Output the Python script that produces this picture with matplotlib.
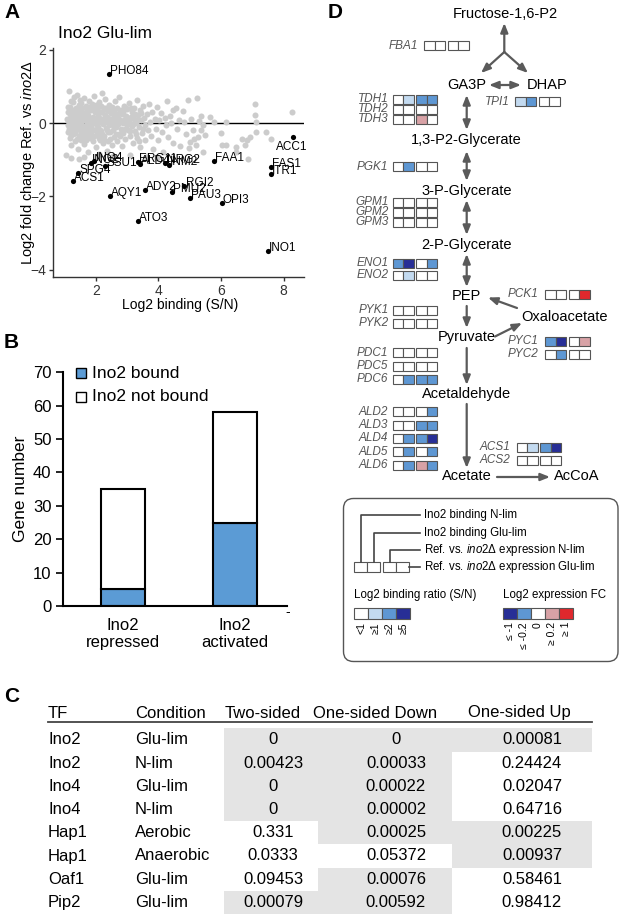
import matplotlib
matplotlib.use("Agg")
import matplotlib.pyplot as plt
from matplotlib.patches import Rectangle, FancyBboxPatch

plt.rcParams['font.family'] = ['Liberation Sans', 'DejaVu Sans']
plt.rcParams['mathtext.fontset'] = 'custom'
plt.rcParams['mathtext.rm'] = 'Liberation Sans'
plt.rcParams['mathtext.it'] = 'Liberation Sans:italic'

# ---------------- Panel A data ----------------
lab_genes = ["PHO84", "ACC1", "FAA1", "FAS1", "ITR1", "INO1", "OPI3", "PAU3", "RGI2", "PMU2",
             "ADY2", "AQY1", "ATO3", "ACS1", "SPG4", "SSU1", "INO2", "INO4", "ERG11", "ALD4",
             "NRG2", "INM2"]
lab_x = [2.42, 8.29, 5.78, 7.58, 7.58, 7.50, 6.02, 5.01, 4.83, 4.43,
         3.56, 2.44, 3.35, 1.26, 1.44, 2.30, 1.83, 1.95, 3.34, 3.40,
         4.22, 4.33]
lab_y = [1.34, -0.37, -1.03, -1.20, -1.40, -3.48, -2.17, -2.05, -1.71, -1.87,
         -1.82, -2.00, -2.66, -1.59, -1.36, -1.16, -1.08, -1.03, -1.05, -1.12,
         -1.08, -1.15]

gray_pts = [
    (1.08, 0.12), (1.10, -0.05), (1.12, 0.30), (1.12, -0.25), (1.15, 0.88), (1.15, 0.05), (1.18, -0.40),
    (1.18, 0.45), (1.20, 0.20), (1.22, -0.12), (1.22, -0.60), (1.25, 0.35), (1.25, 0.00), (1.28, -0.30),
    (1.28, 0.58), (1.30, 0.15), (1.32, -0.05), (1.33, -0.48), (1.35, 0.40), (1.36, 0.08), (1.38, -0.20),
    (1.40, 0.78), (1.40, 0.25), (1.42, -0.70), (1.44, -0.02), (1.45, 0.50), (1.47, -0.35), (1.48, 0.18),
    (1.50, -0.10), (1.50, 0.62), (1.20, -0.95), (1.45, -0.98), (1.62, -0.92), (1.06, -0.86),
    (1.52, 0.30), (1.53, -0.45), (1.55, 0.05), (1.57, 0.42), (1.58, -0.22), (1.60, 0.15), (1.62, -0.58),
    (1.63, 0.68), (1.65, -0.08), (1.66, 0.28), (1.68, -0.32), (1.70, 0.48), (1.71, 0.02), (1.73, -0.15),
    (1.75, 0.22), (1.76, -0.80), (1.78, 0.60), (1.80, -0.40), (1.81, 0.10), (1.83, 0.35), (1.85, -0.05),
    (1.86, -0.25), (1.88, 0.52), (1.90, 0.18), (1.92, -0.50), (1.93, 0.00), (1.95, 0.75), (1.96, -0.18),
    (1.98, 0.30), (2.00, -0.65),
    (2.02, 0.08), (2.03, 0.42), (2.05, -0.30), (2.07, 0.20), (2.08, -0.10), (2.10, 0.58), (2.12, -0.45),
    (2.13, 0.05), (2.15, 0.30), (2.17, -0.22), (2.18, 0.82), (2.20, 0.12), (2.22, -0.55), (2.23, -0.02),
    (2.25, 0.40), (2.27, -0.35), (2.28, 0.22), (2.30, 0.65), (2.32, -0.12), (2.33, 0.05), (2.35, -0.75),
    (2.37, 0.35), (2.38, -0.25), (2.40, 0.15), (2.42, 0.50), (2.43, -0.05), (2.45, -0.42), (2.47, 0.28),
    (2.48, 0.00), (2.50, -0.60), (2.10, -0.85),
    (2.52, 0.45), (2.53, 0.10), (2.55, -0.20), (2.57, 0.32), (2.58, -0.38), (2.60, 0.60), (2.62, 0.02),
    (2.64, -0.10), (2.65, 0.22), (2.67, -0.50), (2.69, 0.40), (2.70, -0.02), (2.72, 0.15), (2.74, -0.30),
    (2.75, 0.70), (2.77, 0.08), (2.79, -0.15), (2.80, 0.35), (2.82, -0.62), (2.84, 0.25), (2.86, 0.00),
    (2.88, -0.28), (2.90, 0.48), (2.92, 0.12), (2.94, -0.42), (2.96, 0.20), (2.98, -0.05), (2.55, -0.90),
    (3.00, 0.38), (3.02, -0.18), (3.05, 0.05), (3.07, 0.55), (3.09, -0.35), (3.12, 0.18), (3.14, -0.08),
    (3.16, 0.30), (3.18, -0.55), (3.21, 0.10), (3.23, 0.42), (3.25, -0.22), (3.28, 0.00), (3.30, 0.62),
    (3.32, -0.40), (3.35, 0.22), (3.37, -0.10), (3.40, 0.35), (3.42, -0.65), (3.45, 0.08), (3.48, -0.28),
    (3.50, 0.48), (3.53, 0.15), (3.56, -0.05), (3.58, -0.45), (3.10, -0.88),
    (3.62, 0.25), (3.65, -0.18), (3.70, 0.52), (3.72, 0.02), (3.76, -0.35), (3.80, 0.30), (3.84, -0.70),
    (3.88, 0.10), (3.92, -0.15), (3.95, 0.45), (4.00, -0.45), (4.03, 0.08), (4.08, 0.28), (4.12, -0.25),
    (4.15, -0.80), (4.20, 0.15), (4.24, -0.05), (4.28, 0.60), (4.32, -0.38), (4.36, 0.20), (4.40, 0.00),
    (4.45, -0.55), (4.48, 0.35), (3.60, -0.92), (3.95, -0.95),
    (4.55, 0.40), (4.60, -0.15), (4.65, 0.08), (4.70, -0.62), (4.77, 0.34), (4.82, 0.02), (4.88, -0.30),
    (4.93, 0.63), (4.98, -0.69), (5.00, -0.51), (5.05, 0.12), (5.10, -0.20), (5.14, -0.42), (5.20, -0.60),
    (5.23, 0.68), (5.25, -0.37), (5.30, 0.05), (5.36, 0.19), (5.36, -0.19), (5.41, -0.05), (5.41, -0.79),
    (5.48, -0.33),
    (5.65, 0.17), (5.78, 0.04), (6.01, -0.26), (6.04, -0.60), (6.15, -0.60), (6.17, 0.02), (6.47, -0.65),
    (6.47, -0.79), (6.66, -0.42), (6.76, -0.60), (6.84, -0.47), (6.86, -0.97), (6.94, -0.37), (7.08, 0.52),
    (7.10, 0.22), (7.12, 0.02), (7.12, -0.24), (7.45, -0.24), (7.61, -0.42), (8.26, 0.31),
    (1.10, 0.45), (1.13, -0.15), (1.16, 0.25), (1.19, 0.60), (1.21, -0.32), (1.24, 0.10), (1.27, -0.18),
    (1.29, 0.30), (1.31, 0.70), (1.34, -0.28), (1.37, 0.22), (1.39, -0.42), (1.41, 0.05), (1.43, 0.35),
    (1.46, -0.15), (1.49, 0.40), (1.51, -0.28), (1.54, 0.55), (1.56, -0.10), (1.59, 0.25), (1.61, -0.35),
    (1.64, 0.10), (1.67, 0.40), (1.69, -0.45), (1.72, 0.15), (1.74, -0.25), (1.77, 0.35), (1.79, -0.08),
    (1.82, 0.45), (1.84, -0.35), (1.87, 0.08), (1.89, -0.15), (1.91, 0.40), (1.94, -0.35), (1.97, 0.10),
    (1.99, 0.50), (2.04, -0.05), (2.06, 0.32), (2.09, -0.40), (2.11, 0.15), (2.14, -0.18), (2.16, 0.48),
    (2.19, -0.30), (2.21, 0.30), (2.24, 0.05), (2.26, -0.45), (2.29, 0.10), (2.31, 0.40), (2.34, -0.20),
    (2.36, 0.18), (2.39, -0.48), (2.41, 0.32), (2.44, 0.08), (2.46, -0.25), (2.49, 0.42), (2.54, -0.05),
    (2.59, 0.20), (2.63, -0.30), (2.68, 0.08), (2.73, 0.28), (2.78, -0.35), (2.83, 0.05), (2.87, 0.30),
    (2.93, -0.15), (2.97, 0.40), (3.03, 0.12), (3.08, -0.22), (3.13, 0.42), (3.19, -0.02), (3.24, 0.25),
    (3.29, -0.30), (3.34, 0.08), (3.39, -0.48), (3.44, 0.28), (3.52, -0.15),
]
gray_x = [p[0] for p in gray_pts]
gray_y = [p[1] for p in gray_pts]

# ---------------- Panel B data ----------------
b_categories = ["Ino2\nrepressed", "Ino2\nactivated"]
b_bound = [5, 25]
b_not_bound = [30, 33]

# ---------------- Panel C data ----------------
tbl_tf = ["Ino2", "Ino2", "Ino4", "Ino4", "Hap1", "Hap1", "Oaf1", "Pip2"]
tbl_cond = ["Glu-lim", "N-lim", "Glu-lim", "N-lim", "Aerobic", "Anaerobic", "Glu-lim", "Glu-lim"]
tbl_two = ["0", "0.00423", "0", "0", "0.331", "0.0333", "0.09453", "0.00079"]
tbl_down = ["0", "0.00033", "0.00022", "0.00002", "0.00025", "0.05372", "0.00076", "0.00592"]
tbl_up = ["0.00081", "0.24424", "0.02047", "0.64716", "0.00225", "0.00937", "0.58461", "0.98412"]
tbl_header = ["TF", "Condition", "Two-sided", "One-sided Down", "One-sided Up"]

# ---------------- Panel D data ----------------
d_genes = ["FBA1", "TDH1", "TDH2", "TDH3", "TPI1", "PGK1", "GPM1", "GPM2", "GPM3", "ENO1", "ENO2",
           "PCK1", "PYK1", "PYK2", "PYC1", "PYC2", "PDC1", "PDC5", "PDC6",
           "ALD2", "ALD3", "ALD4", "ALD5", "ALD6", "ACS1", "ACS2"]
# binding levels: 0 (<1), 1 (>=1), 2 (>=2), 3 (>=5)
d_bind_nlim = [0, 0, 0, 0, 1, 0, 0, 0, 0, 2, 0, 0, 0, 0, 2, 0, 0, 0, 0, 0, 0, 0, 0, 0, 0, 0]
d_bind_glu = [0, 1, 0, 0, 2, 2, 0, 0, 0, 3, 1, 0, 0, 0, 3, 2, 0, 0, 2, 0, 0, 2, 2, 2, 1, 0]
# expression levels: -2 (<=-1), -1 (<=-0.2), 0, 1 (>=0.2), 2 (>=1)
d_expr_nlim = [0, -1, 0, 1, 0, 0, 0, 0, 0, 0, 0, 0, 0, 0, 0, 0, 0, 0, -1, 0, -1, -1, 0, 1, -1, 0]
d_expr_glu = [0, -1, 0, 0, 0, 0, 0, 0, 0, -1, 0, 2, 0, 0, 1, 0, 0, 0, -1, -1, -1, -2, -1, -1, -2, 0]
bind_legend = ["<1", "\u22651", "\u22652", "\u22655"]
expr_legend = ["\u2264 -1", "\u2264 -0.2", "0", "\u2265 0.2", "\u2265 1"]

# ---------------- figure ----------------
W, H = 621, 916
fig = plt.figure(figsize=(W / 100, H / 100), dpi=100)
ov = fig.add_axes([0, 0, 1, 1])
ov.set_xlim(0, W)
ov.set_ylim(H, 0)
ov.axis('off')
ov.set_zorder(10)

BLUE = '#5b9bd5'
bind_col = {0: 'white', 1: '#c3daf0', 2: '#5e97d3', 3: '#272e96'}
expr_col = {-2: '#272e96', -1: '#5e97d3', 0: 'white', 1: '#d8a2a6', 2: '#e0282d'}

# panel letters
for letter, (x, y) in {"A": (4, 12), "B": (4, 343), "C": (4, 696), "D": (328, 12)}.items():
    ov.text(x, y, letter, fontsize=15, fontweight='bold', ha='left', va='center')

# ---------------- Panel A ----------------
axA = fig.add_axes([53 / W, 1 - 277 / H, 251 / W, 229 / H])
axA.set_xlim(0.63, 8.65)
axA.set_ylim(-4.2, 2.05)
axA.axhline(0, color='black', lw=1, zorder=1)
axA.scatter(gray_x, gray_y, s=19, color='#cccccc', lw=0, zorder=2)
axA.scatter(lab_x, lab_y, s=14, color='black', lw=0, zorder=3)
offsets = {"ACC1": (-17, -10)}
for g, x, y in zip(lab_genes, lab_x, lab_y):
    dx, dy = offsets.get(g, (1.2, 3))
    axA.annotate(g, (x, y), xytext=(dx * 0.72, dy * 0.72), textcoords='offset points',
                 fontsize=8.5, ha='left', va='center', zorder=4)
for s in ['top', 'right']:
    axA.spines[s].set_visible(False)
for s in ['left', 'bottom']:
    axA.spines[s].set_color('#333333')
    axA.spines[s].set_linewidth(1)
axA.set_xticks([2, 4, 6, 8])
axA.set_yticks([-4, -2, 0, 2])
axA.tick_params(length=3, width=1, color='#333333', labelsize=10, labelcolor='#333333', pad=2)
ov.text(58, 33, "Ino2 Glu-lim", fontsize=12.5, ha='left', va='center')
ov.text(180, 305, "Log2 binding (S/N)", fontsize=10, ha='center', va='center')
ov.text(28, 163, r"Log2 fold change Ref. vs $\mathit{ino2}$Δ", fontsize=10.5, rotation=90,
        ha='center', va='center')

# ---------------- Panel B ----------------
axB = fig.add_axes([62.7 / W, 1 - 606 / H, 224 / W, (606 - 372.3) / H])
axB.patch.set_alpha(0)
xs = list(range(len(b_categories)))
axB.bar(xs, b_bound, width=0.395, color=BLUE, edgecolor='black', lw=1.5, zorder=2)
axB.bar(xs, b_not_bound, bottom=b_bound, width=0.395, color='white', edgecolor='black', lw=1.5, zorder=2)
axB.set_xlim(-0.544, 1.467)
axB.set_ylim(0, 70)
axB.set_yticks(range(0, 71, 10))
axB.set_xticks(xs)
axB.set_xticklabels(b_categories, fontsize=12, linespacing=1.1)
axB.tick_params(axis='y', length=5, width=1.2, labelsize=12, pad=3)
axB.tick_params(axis='x', length=0, pad=9)
for s in ['top', 'right']:
    axB.spines[s].set_visible(False)
for s in ['left', 'bottom']:
    axB.spines[s].set_linewidth(1.5)
axB.spines['left'].set_bounds(0, 70)
ov.text(21, 489, "Gene number", fontsize=12.5, rotation=90, ha='center', va='center')
ov.add_patch(Rectangle((75.5, 368), 10, 10, fc=BLUE, ec='black', lw=1))
ov.add_patch(Rectangle((75.5, 391.5), 10, 10, fc='white', ec='black', lw=1))
ov.text(92, 373, "Ino2 bound", fontsize=12.5, ha='left', va='center')
ov.text(92, 396.5, "Ino2 not bound", fontsize=12.5, ha='left', va='center')
ov.text(288, 612, "-", fontsize=10, ha='center', va='center')

# ---------------- Panel C (table) ----------------
TFONT = ['Liberation Sans Narrow', 'Liberation Sans']
tsize = 12
row0, drow = 740, 23.2
hdr_y, line_y = 713, 722
col_edges = [224, 318, 452, 592]
num_cx = [273, 396, 532]
hdr_x = [(48, 'left'), (135, 'left'), (263, 'center'), (375, 'center'), (519, 'center')]
for txt, (x, ha) in zip(tbl_header, hdr_x):
    ov.text(x, hdr_y, txt, fontsize=tsize, family=TFONT, ha=ha, va='center')
ov.plot([48, 592], [line_y, line_y], color='#444444', lw=1.3)
for i in range(len(tbl_tf)):
    y = row0 + i * drow
    for j, vals in enumerate([tbl_two, tbl_down, tbl_up]):
        if float(vals[i]) < 0.01:
            ov.add_patch(Rectangle((col_edges[j], y - drow / 2), col_edges[j + 1] - col_edges[j], drow,
                                   fc='#e4e4e4', ec='none', zorder=0))
        ov.text(num_cx[j], y, vals[i], fontsize=tsize, family=TFONT, ha='center', va='center')
    ov.text(48, y, tbl_tf[i], fontsize=tsize, family=TFONT, ha='left', va='center')
    ov.text(135, y, tbl_cond[i], fontsize=tsize, family=TFONT, ha='left', va='center')

# ---------------- Panel D ----------------
ACOL = '#5a5a5a'
def arrow(x0, y0, x1, y1, style='-|>'):
    ov.annotate('', xy=(x1, y1), xytext=(x0, y0),
                arrowprops=dict(arrowstyle=style + ',head_length=0.55,head_width=0.22', color=ACOL,
                                lw=1.6, mutation_scale=10, shrinkA=0, shrinkB=0))

mets = {"Fructose-1,6-P2": (505, 14), "GA3P": (466.7, 85), "DHAP": (546.7, 85),
        "1,3-P2-Glycerate": (466.7, 140), "3-P-Glycerate": (466.7, 190.7),
        "2-P-Glycerate": (466.7, 245), "PEP": (466.7, 295.5), "Oxaloacetate": (565, 316.7),
        "Pyruvate": (466.7, 336.7), "Acetaldehyde": (466.7, 394.3), "Acetate": (466.7, 476),
        "AcCoA": (577, 476)}
for m, (x, y) in mets.items():
    ov.text(x, y, m, fontsize=10.5, ha='center', va='center')

arrow(504.3, 52, 504.3, 23)
arrow(504.3, 52, 481, 73)
arrow(504.3, 52, 528, 73)
arrow(489, 85, 521, 85, '<|-|>')
arrow(466.7, 95, 466.7, 130, '<|-|>')
arrow(466.7, 151, 466.7, 181, '<|-|>')
arrow(466.7, 200, 466.7, 235, '<|-|>')
arrow(466.7, 254, 466.7, 287, '<|-|>')
arrow(466.7, 306, 466.7, 328)
arrow(466.7, 348, 466.7, 385)
arrow(466.7, 404, 466.7, 468)
arrow(497, 477, 550, 477)
arrow(517, 308, 488, 297.5)
arrow(495, 336.5, 522, 323)

# layout of gene rows: label right edge, y centre, box start
d_layout = {
    "FBA1": (417.7, 45.7, 424.3), "TDH1": (388.3, 99, 392.7), "TDH2": (388.3, 109, 392.7),
    "TDH3": (388.3, 119, 392.7), "TPI1": (510, 101.7, 515), "PGK1": (388.3, 166.7, 392.7),
    "GPM1": (388.3, 202.3, 392.7), "GPM2": (388.3, 212.3, 392.7), "GPM3": (388.3, 222.3, 392.7),
    "ENO1": (388.3, 263.3, 392.7), "ENO2": (388.3, 275, 392.7), "PCK1": (538.3, 294.3, 545),
    "PYK1": (388.3, 310, 392.7), "PYK2": (388.3, 323.3, 392.7), "PYC1": (538.3, 341, 545),
    "PYC2": (538.3, 354.3, 545), "PDC1": (388.3, 352.7, 392.7), "PDC5": (388.3, 366, 392.7),
    "PDC6": (388.3, 379.3, 392.7), "ALD2": (388.3, 411.7, 392.7), "ALD3": (388.3, 425, 392.7),
    "ALD4": (388.3, 438.3, 392.7), "ALD5": (388.3, 451.7, 392.7), "ALD6": (388.3, 465, 392.7),
    "ACS1": (510.7, 447.3, 516.7), "ACS2": (510.7, 460, 516.7),
}

def boxes(x0, yc, colors, w=10.5, h=9, gap=2.5):
    for i, c in enumerate(colors):
        x = x0 + i * w + (gap if i >= 2 else 0)
        ov.add_patch(Rectangle((x, yc - h / 2), w, h, fc=c, ec='#555555', lw=0.8))

for g, bn, bg, en, eg in zip(d_genes, d_bind_nlim, d_bind_glu, d_expr_nlim, d_expr_glu):
    lx, yc, bx = d_layout[g]
    ov.text(lx, yc, g, fontsize=8.5, style='italic', color='#555555', ha='right', va='center')
    boxes(bx, yc, [bind_col[bn], bind_col[bg], expr_col[en], expr_col[eg]])

# legend box
ov.add_patch(FancyBboxPatch((343.5, 498.5), 274.5, 163, boxstyle='round,pad=0,rounding_size=10',
                            fc='none', ec='#555555', lw=1))
lb_y = 566.7
boxes(354.3, lb_y, ['white'] * 4, w=13, h=10, gap=3)
LC = '#444444'
ov.plot([360.8, 360.8, 420], [561.7, 515, 515], color=LC, lw=1.2)
ov.plot([373.8, 373.8, 420], [561.7, 532.7, 532.7], color=LC, lw=1.2)
ov.plot([389.8, 389.8, 420], [561.7, 550, 550], color=LC, lw=1.2)
ov.plot([409.3, 420], [566.7, 566.7], color=LC, lw=1.2)
leg_txt = ["Ino2 binding N-lim", "Ino2 binding Glu-lim",
           r"Ref. vs. $\mathit{ino2}$Δ expression N-lim", r"Ref. vs. $\mathit{ino2}$Δ expression Glu-lim"]
for t, y in zip(leg_txt, [515, 532.7, 550, 566.7]):
    ov.text(424, y, t, fontsize=8.3, ha='left', va='center')
ov.text(354.3, 595, "Log2 binding ratio (S/N)", fontsize=8.3, ha='left', va='center')
ov.text(502.7, 595, "Log2 expression FC", fontsize=8.3, ha='left', va='center')
for i, (lv, lab) in enumerate(zip([0, 1, 2, 3], bind_legend)):
    x = 354.3 + i * 14
    ov.add_patch(Rectangle((x, 607.7), 14, 11.6, fc=bind_col[lv], ec='#555555', lw=0.8))
    ov.text(x + 7, 622, lab, fontsize=7.5, rotation=90, ha='center', va='top')
for i, (lv, lab) in enumerate(zip([-2, -1, 0, 1, 2], expr_legend)):
    x = 502.7 + i * 14.1
    ov.add_patch(Rectangle((x, 607.7), 14.1, 11.6, fc=expr_col[lv], ec='#555555', lw=0.8))
    ov.text(x + 7, 622, lab, fontsize=7.5, rotation=90, ha='center', va='top')

fig.savefig("out.png", dpi=100, facecolor='white')
